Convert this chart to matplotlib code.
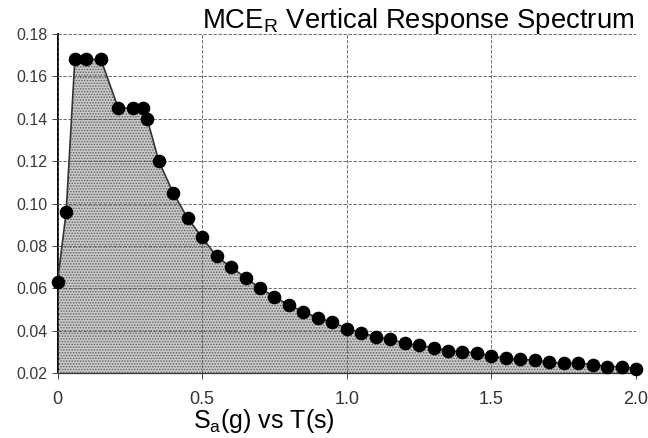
import matplotlib
matplotlib.use("Agg")
import matplotlib.pyplot as plt

# Vertical response spectrum: period T (s) and spectral acceleration Sa (g)
period = [0.0, 0.03, 0.06, 0.10, 0.15, 0.21, 0.26, 0.295, 0.31,
          0.35, 0.40, 0.45, 0.50, 0.55, 0.60, 0.65, 0.70, 0.75, 0.80,
          0.85, 0.90, 0.95, 1.00, 1.05, 1.10, 1.15, 1.20, 1.25, 1.30,
          1.35, 1.40, 1.45, 1.50, 1.55, 1.60, 1.65, 1.70, 1.75, 1.80,
          1.85, 1.90, 1.95, 2.00]
sa = [0.063, 0.096, 0.168, 0.168, 0.168, 0.145, 0.145, 0.145, 0.140,
      0.120, 0.105, 0.093, 0.084, 0.075, 0.070, 0.065, 0.060, 0.056, 0.052,
      0.049, 0.046, 0.044, 0.041, 0.039, 0.037, 0.036, 0.034, 0.033, 0.032,
      0.0305, 0.030, 0.0295, 0.028, 0.027, 0.0265, 0.026, 0.025, 0.0247, 0.0245,
      0.024, 0.023, 0.023, 0.022]

x_ticks = [0.0, 0.5, 1.0, 1.5, 2.0]
x_tick_labels = ["0", "0.5", "1.0", "1.5", "2.0"]
y_ticks = [0.02, 0.04, 0.06, 0.08, 0.10, 0.12, 0.14, 0.16, 0.18]
y_tick_labels = ["0.02", "0.04", "0.06", "0.08", "0.10", "0.12", "0.14", "0.16", "0.18"]

plt.rcParams["font.family"] = ["Liberation Sans", "DejaVu Sans"]
plt.rcParams["hatch.linewidth"] = 0.7

fig = plt.figure(figsize=(6.48, 4.38), dpi=100)
ax = fig.add_axes([57.5 / 648, 1 - 373 / 438, (636 - 57.5) / 648, (373 - 34) / 438])

base = y_ticks[0]
ax.fill_between(period, sa, base, facecolor="#c9c9c9", edgecolor="#5e5e5e",
                hatch="......", linewidth=0, zorder=1)
ax.plot(period, sa, color="#333333", lw=1.2, zorder=3)
ax.plot(period, sa, "o", color="black", ms=8.8, zorder=4, clip_on=False)

ax.set_xlim(0, 2.0)
ax.set_ylim(0.02, 0.18)
ax.set_xticks(x_ticks)
ax.set_xticklabels(x_tick_labels, fontsize=13, color="#333333")
ax.set_yticks(y_ticks)
ax.set_yticklabels(y_tick_labels, fontsize=11.5, color="#3a3a3a")
ax.tick_params(axis="both", direction="out", length=4, width=0.7, color="#444444")
ax.tick_params(axis="x", pad=9)
ax.tick_params(axis="y", pad=3)

ax.grid(True, color="#555555", lw=0.6, linestyle=(0, (4, 2)), zorder=2)
ax.set_axisbelow(False)
for side in ("top", "right"):
    ax.spines[side].set_visible(False)
ax.spines["left"].set_linewidth(1.4)
ax.spines["left"].set_color("black")
ax.spines["bottom"].set_linewidth(0.9)
ax.spines["bottom"].set_color("#333333")

fig.text(202 / 648, 1 - 28 / 438, r"MCE$_\mathregular{R}$ Vertical Response Spectrum",
         fontsize=19.8, ha="left", va="baseline", color="black")
fig.text(264 / 648, 1 - 428 / 438, r"S$_\mathregular{a}$(g) vs T(s)",
         fontsize=18, ha="center", va="baseline", color="black")

fig.savefig("out.png", dpi=100)
